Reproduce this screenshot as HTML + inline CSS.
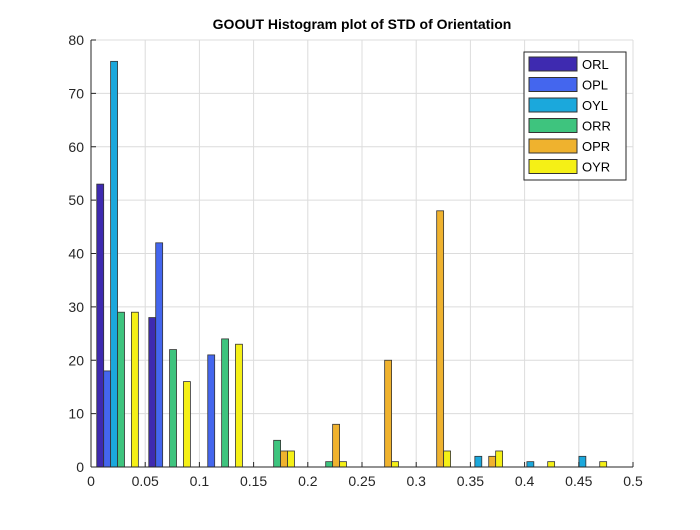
<!DOCTYPE html>
<html><head><meta charset="utf-8"><style>
body{margin:0;background:#fff;font-family:"Liberation Sans",sans-serif}
svg text{font-family:"Liberation Sans",sans-serif}
</style></head><body>
<svg id="c" width="700" height="525">
<rect width="700" height="525" fill="#fff"/>
<g id="grid"></g><g id="bars"></g><g id="axes"></g><g id="legend"></g>
<text x="362" y="29" text-anchor="middle" font-size="14" font-weight="bold" fill="#000">GOOUT Histogram plot of STD of Orientation</text>
</svg>
<script>
const seriesNames=["ORL","OPL","OYL","ORR","OPR","OYR"];
const colors=["#3e2ab0","#4466ee","#1ba8dc","#3ec47e","#efb22e","#f5f016"];
const binCenters=[0.0245,0.0725,0.1205,0.1685,0.2165,0.2645,0.3125,0.3605,0.4085,0.4565];
const binWidth=0.048;
const ORL=[53,28,0,0,0,0,0,0,0,0];
const OPL=[18,42,21,0,0,0,0,0,0,0];
const OYL=[76,0,0,0,0,0,0,2,1,2];
const ORR=[29,22,24,5,1,0,0,0,0,0];
const OPR=[0,0,0,3,8,20,48,2,0,0];
const OYR=[29,16,23,3,1,1,3,3,1,1];
const xTicks=[0,0.05,0.1,0.15,0.2,0.25,0.3,0.35,0.4,0.45,0.5];
const xTickLabels=["0","0.05","0.1","0.15","0.2","0.25","0.3","0.35","0.4","0.45","0.5"];
const yTicks=[0,10,20,30,40,50,60,70,80];
const series=[ORL,OPL,OYL,ORR,OPR,OYR];
const L=91,R=633,T=40,B=467;
const xs=v=>L+(v/0.5)*(R-L);
const ys=v=>B-(v/80)*(B-T);
const NS="http://www.w3.org/2000/svg";
function mk(p,t,a){const e=document.createElementNS(NS,t);for(const k in a)e.setAttribute(k,a[k]);p.appendChild(e);return e;}
const grid=document.getElementById('grid'),bars=document.getElementById('bars'),axes=document.getElementById('axes'),leg=document.getElementById('legend');
mk(grid,'rect',{x:L,y:T,width:R-L,height:B-T,fill:'#fff'});
xTicks.forEach((t,i)=>{
 const g=mk(grid,'line',{x1:xs(t),x2:xs(t),y1:T,y2:B,stroke:'#dcdcdc','stroke-width':1});
 
 
 const tx=mk(axes,'text',{x:xs(t),y:B+19,'text-anchor':'middle','font-size':14,fill:'#262626'});
 tx.textContent=xTickLabels[i];
 
 
 mk(axes,'line',{x1:xs(t),x2:xs(t),y1:B,y2:B-5,stroke:'#262626'});
});
yTicks.forEach(t=>{
 const g=mk(grid,'line',{x1:L,x2:R,y1:ys(t),y2:ys(t),stroke:'#dcdcdc','stroke-width':1});
 
 
 const tx=mk(axes,'text',{x:L-7,y:ys(t)+5,'text-anchor':'end','font-size':14,fill:'#262626'});
 tx.textContent=t;
 
 
 mk(axes,'line',{x1:L,x2:L+5,y1:ys(t),y2:ys(t),stroke:'#262626'});
});
const groupW=0.8*binWidth, bw=groupW/6;
series.forEach((s,si)=>{
 s.forEach((v,bi)=>{
  const x0=binCenters[bi]-groupW/2+si*bw;
  const r=mk(bars,'rect',{x:xs(x0),y:ys(v),width:xs(x0+bw)-xs(x0),height:ys(0)-ys(v),fill:colors[si],stroke:'#333','stroke-width':0.8});
  
  
 });
});
mk(axes,'line',{x1:L,x2:R,y1:B,y2:B,stroke:'#262626'});
mk(axes,'line',{x1:L,x2:L,y1:T,y2:B,stroke:'#262626'});
const lb=mk(leg,'rect',{x:524,y:52,width:102,height:128,fill:'#fff',stroke:'#262626'});


seriesNames.forEach((n,i)=>{
 const y=57+i*20.5;
 mk(leg,'rect',{x:529,y:y,width:48,height:14,fill:colors[i],stroke:'#333'});
 const t=mk(leg,'text',{x:582,y:y+12,'font-size':13,fill:'#000'});
 t.textContent=n;
 
 
});
</script>
</body></html>
